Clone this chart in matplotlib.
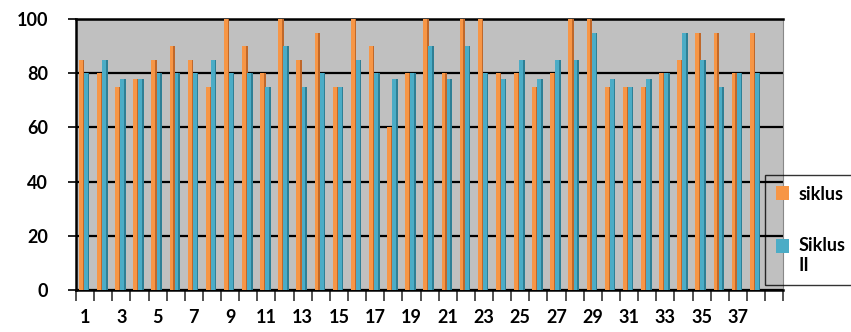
import numpy as np
import matplotlib.pyplot as plt

# values
categories = list(range(1, 39))
siklus_1 = [85, 80, 75, 78, 85, 90, 85, 75, 100, 90, 80, 100, 85, 95, 75, 100, 90, 60, 80,
            100, 80, 100, 100, 80, 80, 75, 80, 100, 100, 75, 75, 75, 80, 85, 95, 95, 80, 95]
siklus_2 = [80, 85, 78, 78, 80, 80, 80, 85, 80, 80, 75, 90, 75, 80, 75, 85, 80, 78, 80,
            90, 78, 90, 80, 78, 85, 78, 85, 85, 95, 78, 75, 78, 80, 95, 85, 75, 80, 80]
series_names = ['siklus', 'Siklus II']
tick_labels = [str(c) if c % 2 == 1 else '' for c in categories]

orange, orange_dark = '#F79646', '#C0682A'
teal, teal_dark = '#4BACC6', '#2E7F95'

plt.rcParams['font.family'] = ['Lato', 'DejaVu Sans']
plt.rcParams['font.weight'] = 'bold'

fig = plt.figure(figsize=(8.51, 3.32), dpi=100)
ax = fig.add_axes([0.0893, 0.1265, 0.831, 0.816])
ax.set_facecolor('#C0C0C0')

x = np.arange(len(categories))
w = 0.3
side = 0.09
ax.bar(x - 0.19, siklus_1, w, color=orange, zorder=3, label=series_names[0])
ax.bar(x - 0.19 + w / 2 - side / 2, siklus_1, side, color=orange_dark, zorder=3)
ax.bar(x + 0.09, siklus_2, w, color=teal, zorder=4, label=series_names[1])
ax.bar(x + 0.09 + w / 2 - side / 2, siklus_2, side, color=teal_dark, zorder=4)

ax.set_xlim(-0.5, len(categories) + 0.5)
ax.set_ylim(0, 100)
ax.set_yticks(range(0, 101, 20))
ax.yaxis.grid(True, color='black', linewidth=1.6, zorder=1)
ax.set_axisbelow(True)

ax.set_xticks(x)
ax.set_xticklabels(tick_labels)
ax.set_xticks(np.arange(-0.5, len(categories) + 1, 1), minor=True)
ax.tick_params(axis='x', which='major', length=0, pad=14, labelsize=13)
ax.tick_params(axis='x', which='minor', length=8, width=1.2, color='#333333')
ax.tick_params(axis='y', length=6, width=1.2, pad=14, labelsize=13)

for s in ['left', 'bottom', 'top']:
    ax.spines[s].set_linewidth(1.8)
    ax.spines[s].set_color('black')
ax.spines['right'].set_color('#888888')

leg = fig.legend(loc='upper left', bbox_to_anchor=(765 / 851, 1 - 175 / 332),
                 frameon=True, handlelength=0.75, handleheight=0.75,
                 labelspacing=1.9, borderpad=0.6, handletextpad=0.5, borderaxespad=0,
                 prop={'weight': 'bold', 'size': 13})
leg.get_frame().set_facecolor('none')
leg.get_frame().set_edgecolor('black')
leg.get_frame().set_boxstyle('square', pad=0)
leg.get_texts()[1].set_text('Siklus\nII')
for h in leg.legend_handles:
    h.set_height(10)
leg.legend_handles[1].set_y(leg.legend_handles[1].get_y() + 7)

fig.savefig('out.png', dpi=100)
